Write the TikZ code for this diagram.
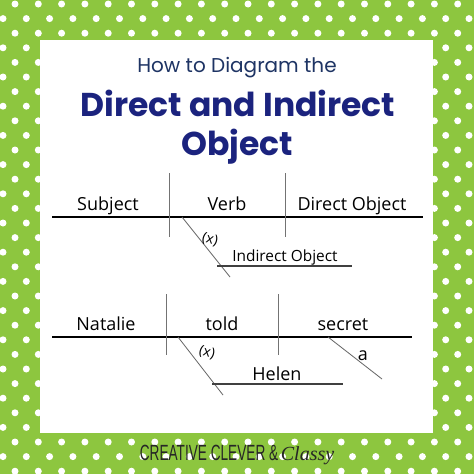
\documentclass[tikz,border=0pt]{standalone}
\usepackage{fontspec}
\setmainfont{Open Sans}
\newfontfamily\titlefont{Poppins}
\newfontfamily\footfont[FakeStretch=0.62]{Liberation Sans}
\newfontfamily\classyfont{Liberation Serif}
\usetikzlibrary{positioning,calc}

\definecolor{dotgreen}{RGB}{141,198,63}
\definecolor{titlenavy}{RGB}{27,35,126}
\definecolor{howblue}{RGB}{30,52,100}

\tikzset{
  mainline/.style={draw=black, line width=1.3pt},
  divider/.style={draw=black!55, line width=0.8pt},
  slant/.style={draw=black!60, line width=0.8pt},
  underline/.style={draw=black!75, line width=1.3pt},
  word/.style={anchor=base, inner sep=0pt, font=\fontsize{18}{20}\selectfont},
  smallword/.style={anchor=base, inner sep=0pt, font=\fontsize{15.4}{17}\selectfont},
  xmark/.style={inner sep=0pt, font=\fontsize{14}{14}\selectfont, rotate=-15}
}

\begin{document}
\begin{tikzpicture}[x=1pt,y=-1pt]
      \useasboundingbox (0,0) rectangle (474,474);
      \begin{scope}
            \clip (0,0) rectangle (474,474);
            \fill[dotgreen] (0,0) rectangle (474,474);
            % polka dots, every other row shifted by half a step
            \foreach \k in {0,...,32}
            \foreach \n in {-1,...,21}
            {
              \pgfmathsetmacro{\dx}{mod(\k,2)==0 ? 15 : 3}
              \fill[white] (\dx+23.3*\n, 4+14.6*\k) circle (3.5);
            }
      \end{scope}
      \fill[white] (40,40) rectangle (433,433);% the white card

      % titles
      \node[text=howblue, font=\titlefont\fontsize{20}{22}\selectfont] (how) at (237,68) {How to Diagram the};
      \node[text=titlenavy, font=\titlefont\bfseries\fontsize{33}{35}\selectfont, anchor=base] (title1) at (238,116) {Direct and Indirect};
      \node[text=titlenavy, font=\titlefont\bfseries\fontsize{33}{35}\selectfont, anchor=base] (title2) at (237,155) {Object};

      % first diagram
      \coordinate (MainA)  at (52,217);
      \coordinate (MainB)  at (423,217);
      \coordinate (DivAT)  at (169,173);
      \coordinate (DivAB)  at (169,237);
      \coordinate (DivBT)  at (285,173);
      \coordinate (DivBB)  at (285,237);
      \coordinate (SlantA) at (182,217);
      \coordinate (SlantB) at (230,277);
      \coordinate (IndA)   at (217,266);
      \coordinate (IndB)   at (352,266);
      \draw [mainline] (MainA) -- (MainB);
      \draw [divider] (DivAT) -- (DivAB);
      \draw [divider] (DivBT) -- (DivBB);
      \draw [slant] (SlantA) -- (SlantB);
      \draw [underline] (IndA) -- (IndB);
      \node[word] (subj) at (108,210) {Subject};
      \node[word] (verb) at (227,210) {Verb};
      \node[word] (dobj) at (352,210) {Direct Object};
      \node[smallword] (iobj) at (285,261) {Indirect Object};
      \node[xmark] (xa) at (210,240) {(x)};

      % second diagram
      \coordinate (MainC)  at (52,337);
      \coordinate (MainD)  at (412,337);
      \coordinate (DivCT)  at (166,294);
      \coordinate (DivCB)  at (166,355);
      \coordinate (DivDT)  at (278,294);
      \coordinate (DivDB)  at (278,355);
      \coordinate (SlantC) at (178,337);
      \coordinate (SlantD) at (223,395);
      \coordinate (HelA)   at (212,384);
      \coordinate (HelB)   at (343,384);
      \coordinate (ModA)   at (328,337);
      \coordinate (ModB)   at (382,379);
      \draw [mainline] (MainC) -- (MainD);
      \draw [divider] (DivCT) -- (DivCB);
      \draw [divider] (DivDT) -- (DivDB);
      \draw [slant] (SlantC) -- (SlantD);
      \draw [underline] (HelA) -- (HelB);
      \draw [slant] (ModA) -- (ModB);
      \node[word] (natalie) at (106,330) {Natalie};
      \node[word] (told)    at (222,330) {told};
      \node[word] (secret)  at (343,330) {secret};
      \node[word] (helen)   at (277,380) {Helen};
      \node[xmark] (xb) at (207,353) {(x)};
      \node[inner sep=0pt, font=\fontsize{18}{18}\selectfont] (art) at (363,356) {a};

      % footer
      \node[text=black!85, inner sep=0pt] (foot) at (237,455)
        {{\footfont\fontsize{22}{22}\selectfont CREATIVE CLEVER \&}~{\classyfont\itshape\fontsize{20}{20}\selectfont Classy}};
\end{tikzpicture}
\end{document}
